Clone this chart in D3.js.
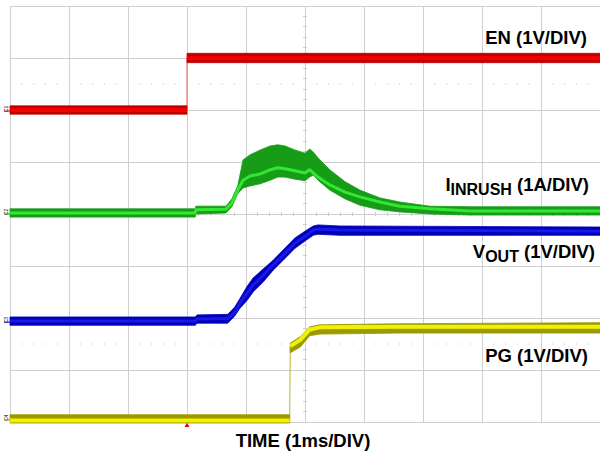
<!DOCTYPE html>
<html>
<head>
<meta charset="utf-8">
<script src="https://cdn.jsdelivr.net/npm/d3@7"></script>
<style>
  body { margin: 0; background: #fff; }
  svg { display: block; }
  .lbl { font-family: "Liberation Sans", Arial, sans-serif; font-weight: bold; fill: #000; }
</style>
</head>
<body>
<div id="chart"></div>
<script>
// time in ms (1 ms per division, 10 divisions), values in channel units
const enTime = [0, 3.0, 3.0, 10];
const enHi   = [0.08, 0.08, 1.09, 1.09];
const enLo   = [-0.08, -0.08, 0.91, 0.91];
const enMid  = [0, 0, 1.0, 1.0];

const iinTime = [0, 3.14, 3.15, 3.66, 3.76, 3.86, 3.95, 4.07, 4.24, 4.41, 4.54, 4.66, 4.83, 5.0, 5.08, 5.14, 5.22, 5.42, 5.68, 5.93, 6.27, 6.61, 7.12, 7.8, 10];
const iinMid  = [0, 0, 0.06, 0.07, 0.19, 0.44, 0.63, 0.71, 0.75, 0.83, 0.87, 0.85, 0.81, 0.77, 0.83, 0.77, 0.69, 0.54, 0.40, 0.31, 0.21, 0.13, 0.08, 0.04, 0.04];
const iinHi   = [0.08, 0.08, 0.13, 0.13, 0.27, 0.52, 1.02, 1.12, 1.21, 1.29, 1.31, 1.29, 1.21, 1.15, 1.23, 1.17, 1.06, 0.83, 0.60, 0.44, 0.29, 0.21, 0.13, 0.12, 0.12];
const iinLo   = [-0.08, -0.08, -0.02, 0, 0.12, 0.37, 0.48, 0.52, 0.56, 0.63, 0.69, 0.69, 0.65, 0.62, 0.69, 0.73, 0.63, 0.44, 0.27, 0.15, 0.06, 0.02, -0.02, -0.04, -0.04];

const voutTime = [0, 3.14, 3.17, 3.69, 3.81, 3.9, 4.02, 4.12, 4.29, 4.46, 4.63, 4.83, 5.0, 5.14, 5.22, 5.59, 10];
const voutMid  = [0, 0, 0.04, 0.05, 0.17, 0.35, 0.54, 0.69, 0.88, 1.08, 1.27, 1.5, 1.63, 1.75, 1.77, 1.75, 1.73];
const voutHi   = [0.08, 0.08, 0.12, 0.13, 0.27, 0.44, 0.67, 0.83, 1.0, 1.17, 1.37, 1.6, 1.73, 1.83, 1.85, 1.83, 1.81];
const voutLo   = [-0.08, -0.08, -0.04, -0.04, 0.1, 0.25, 0.40, 0.56, 0.75, 0.98, 1.17, 1.40, 1.54, 1.65, 1.67, 1.65, 1.65];

const pgTime = [0, 4.74, 4.75, 4.92, 5.08, 5.25, 6.61, 10];
const pgHi   = [0.08, 0.08, 1.46, 1.58, 1.77, 1.81, 1.83, 1.85];
const pgLo   = [-0.08, -0.08, 1.27, 1.38, 1.60, 1.63, 1.65, 1.65];
const pgMid  = [-0.03, -0.03, 1.40, 1.52, 1.72, 1.76, 1.77, 1.77];

const triggerTime = 3.0;

const channels = [
  { id: "C1", time: enTime, hi: enHi, lo: enLo, mid: enMid, perDiv: 1, offset: 2.0, dark: "#c20000", bright: "#f00000", edge: "#e86060", core: 4 },
  { id: "C2", time: iinTime, hi: iinHi, lo: iinLo, mid: iinMid, perDiv: 1, offset: 0.02, dark: "#179c17", bright: "#33e633", edge: "#33e633", core: 3 },
  { id: "C3", time: voutTime, hi: voutHi, lo: voutLo, mid: voutMid, perDiv: 1, offset: -2.06, dark: "#0000b8", bright: "#1818e8", edge: "#1818e8", core: 3 },
  { id: "C4", time: pgTime, hi: pgHi, lo: pgLo, mid: pgMid, perDiv: 1, offset: -3.94, dark: "#999900", bright: "#f2f200", edge: "#b8b820", core: 4 }
];

const width = 600, height = 453;
const svg = d3.select("#chart").append("svg")
  .attr("width", width).attr("height", height);

svg.append("rect").attr("width", width).attr("height", height).attr("fill", "#fff");

const x = d3.scaleLinear().domain([0, 10]).range([10, 600]);
const y = d3.scaleLinear().domain([-4, 4]).range([422, 6]);

// grid
const grid = svg.append("g").attr("stroke", "#cfcfcf").attr("stroke-width", 1).attr("shape-rendering", "crispEdges");
grid.selectAll(".vx").data(d3.range(0, 11)).enter().append("line")
  .attr("x1", d => x(d)).attr("x2", d => x(d)).attr("y1", y(4)).attr("y2", y(-4));
grid.selectAll(".hy").data(d3.range(-4, 5)).enter().append("line")
  .attr("x1", x(0)).attr("x2", x(10)).attr("y1", d => y(d)).attr("y2", d => y(d));

// minor ticks on the centre cross
const minorX = d3.range(0, 10.01, 0.2).filter(d => Math.abs(d - Math.round(d)) > 0.01);
const minorY = d3.range(-4, 4.01, 0.2).filter(d => Math.abs(d - Math.round(d)) > 0.01);
grid.selectAll(".tx").data(minorX).enter().append("line")
  .attr("x1", d => x(d)).attr("x2", d => x(d)).attr("y1", y(0) - 2).attr("y2", y(0) + 2);
grid.selectAll(".ty").data(minorY).enter().append("line")
  .attr("x1", x(5) - 2).attr("x2", x(5) + 2).attr("y1", d => y(d)).attr("y2", d => y(d));

// dotted reference lines
[2.5, -2.5].forEach(lv => {
  svg.append("g").selectAll("rect").data(minorX).enter().append("rect")
    .attr("x", d => x(d) - 0.5).attr("y", y(lv) - 0.5)
    .attr("width", 1).attr("height", 1).attr("fill", "#bbbbbb");
});

// traces
channels.forEach(ch => {
  const pts = ch.time.map((t, i) => ({ t, hi: ch.hi[i], lo: ch.lo[i], mid: ch.mid[i] }));
  const yv = v => y(v / ch.perDiv + ch.offset);
  const area = d3.area().x(d => x(d.t)).y0(d => yv(d.lo)).y1(d => yv(d.hi));
  const line = d3.line().x(d => x(d.t)).y(d => yv(d.mid));

  // split only at the big fast edges so they stay thin
  const runs = [[pts[0]]];
  for (let i = 1; i < pts.length; i++) {
    const a = pts[i - 1], b = pts[i];
    if (b.t - a.t < 0.035 && Math.abs(b.mid - a.mid) > 0.3) runs.push([]);
    runs[runs.length - 1].push(b);
  }

  // thin edge for the steps
  svg.append("path").datum(pts).attr("d", line)
    .attr("fill", "none").attr("stroke", ch.edge).attr("stroke-width", 1);

  runs.forEach(run => {
    svg.append("path").datum(run).attr("d", area)
      .attr("fill", ch.dark).attr("stroke", ch.dark).attr("stroke-width", 0.8);
    svg.append("path").datum(run).attr("d", line)
      .attr("fill", "none").attr("stroke", ch.bright).attr("stroke-width", ch.core)
      .attr("stroke-linejoin", "round");
  });

  const my = yv(0);
  svg.append("text").attr("class", "lbl")
    .attr("transform", `translate(8,${my - 1}) rotate(-90)`)
    .attr("text-anchor", "middle")
    .style("font-size", "5px").style("font-weight", "normal")
    .attr("fill", ch.dark).text(ch.id);
  svg.append("line").attr("x1", 4).attr("x2", 10).attr("y1", my + 1).attr("y2", my + 1)
    .attr("stroke", ch.dark).attr("stroke-width", 1);
});

// trigger marker
svg.append("path")
  .attr("d", d3.symbol().type(d3.symbolTriangle).size(10))
  .attr("transform", `translate(${x(triggerTime)},425.5)`)
  .attr("fill", "#e00000");

// labels
function label(xp, yp, main, sub, rest) {
  const t = svg.append("text").attr("class", "lbl").attr("x", xp).attr("y", yp)
    .attr("text-anchor", "end").style("font-size", "18.5px");
  t.append("tspan").text(main);
  if (sub) {
    t.append("tspan").attr("dy", 4).style("font-size", "16px").text(sub);
    t.append("tspan").attr("dy", -4).text(rest);
  }
}
label(587, 44, "EN (1V/DIV)");
label(589, 191, "I", "INRUSH", " (1A/DIV)");
label(595, 258, "V", "OUT", " (1V/DIV)");
label(588, 361.5, "PG (1V/DIV)");

svg.append("text").attr("class", "lbl").attr("x", 303).attr("y", 446.5)
  .attr("text-anchor", "middle").style("font-size", "18.5px")
  .text("TIME (1ms/DIV)");
</script>
</body>
</html>
